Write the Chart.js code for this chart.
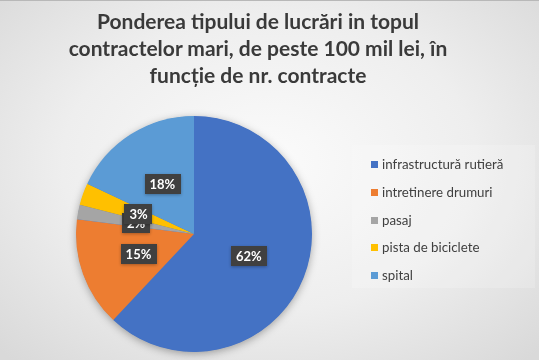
<!DOCTYPE html>
<html>
<head>
<meta charset="utf-8">
<script src="https://cdn.jsdelivr.net/npm/chart.js@4"></script>
<style>
  html, body { margin: 0; padding: 0; }
  body { width: 539px; height: 360px; overflow: hidden; position: relative; font-family: Lato, "Open Sans", sans-serif; }
  #bg { position: absolute; left: 0; top: 0; width: 539px; height: 360px;
        background: radial-gradient(ellipse 70% 75% at 50% 45%, #fbfbfb 0%, #eeeeee 55%, #d9d9d9 100%);
        border-top: 1px solid #b8b8b8; box-sizing: border-box; }
  #title { position: absolute; left: 0; width: 516px; top: 7px; text-align: center;
           font-weight: bold; font-size: 21px; line-height: 27px; color: #3a3a3a; }
  #legend { position: absolute; left: 352px; top: 145px; width: 183px; height: 143px;
            background: rgba(255,255,255,0.18); box-sizing: border-box; }
  .item { position: absolute; left: 19px; height: 16px; font-size: 13.3px; color: #404040; white-space: nowrap; line-height: 16px; }
  .sw { display: inline-block; width: 7px; height: 7px; margin-right: 4px; vertical-align: 1px; }
  #c { position: absolute; left: 0; top: 0; }
</style>
</head>
<body>
<div id="bg"></div>
<canvas id="c" width="539" height="360"></canvas>
<div id="title">Ponderea tipului de lucrări in topul<br>contractelor mari, de peste 100 mil lei, în<br>funcție de nr. contracte</div>
<div id="legend"></div>
<script>
const categories = ["infrastructură rutieră", "intretinere drumuri", "pasaj", "pista de biciclete", "spital"];
const values = [62, 15, 2, 3, 18];
const colors = ["#4472C4", "#ED7D31", "#A5A5A5", "#FFC000", "#5B9BD5"];

// HTML legend built from data
const legend = document.getElementById('legend');
const legendTops = [11, 39, 67, 94, 122];
categories.forEach((c, i) => {
  const d = document.createElement('div');
  d.className = 'item';
  d.style.top = legendTops[i] + 'px';
  d.innerHTML = '<span class="sw" style="background:' + colors[i] + '"></span>' + c;
  legend.appendChild(d);
});

const shadowPlugin = {
  id: 'pieShadow',
  beforeDatasetsDraw(chart) {
    const el = chart.getDatasetMeta(0).data[0];
    if (!el) return;
    const ctx = chart.ctx;
    ctx.save();
    ctx.shadowColor = 'rgba(0,0,0,0.35)';
    ctx.shadowBlur = 8;
    ctx.shadowOffsetX = 0;
    ctx.shadowOffsetY = 2;
    ctx.beginPath();
    ctx.arc(el.x, el.y, el.outerRadius - 0.5, 0, Math.PI * 2);
    ctx.fillStyle = colors[0];
    ctx.fill();
    ctx.restore();
  }
};

const labelPlugin = {
  id: 'pctLabels',
  afterDatasetsDraw(chart) {
    const ctx = chart.ctx;
    const meta = chart.getDatasetMeta(0);
    ctx.save();
    ctx.font = 'bold 13px Lato, "Open Sans", sans-serif';
    ctx.textAlign = 'center';
    ctx.textBaseline = 'middle';
    meta.data.forEach((arc, i) => {
      const p = arc.tooltipPosition();
      const txt = values[i] + '%';
      const w = ctx.measureText(txt).width + 10;
      const h = 20;
      ctx.shadowColor = 'rgba(0,0,0,0.3)';
      ctx.shadowBlur = 3;
      ctx.shadowOffsetY = 1;
      ctx.fillStyle = '#404040';
      ctx.fillRect(Math.round(p.x - w / 2), Math.round(p.y - h / 2), Math.round(w), h);
      ctx.shadowColor = 'transparent';
      ctx.fillStyle = '#ffffff';
      ctx.fillText(txt, p.x, p.y + 1);
    });
    ctx.restore();
  }
};

new Chart(document.getElementById('c'), {
  type: 'pie',
  data: {
    labels: categories,
    datasets: [{ data: values, backgroundColor: colors, borderWidth: 0 }]
  },
  options: {
    responsive: false,
    animation: false,
    layout: { padding: { left: 76, right: 227, top: 116, bottom: 8 } },
    plugins: { legend: { display: false }, tooltip: { enabled: false }, title: { display: false } }
  },
  plugins: [shadowPlugin, labelPlugin]
});
</script>
</body>
</html>
